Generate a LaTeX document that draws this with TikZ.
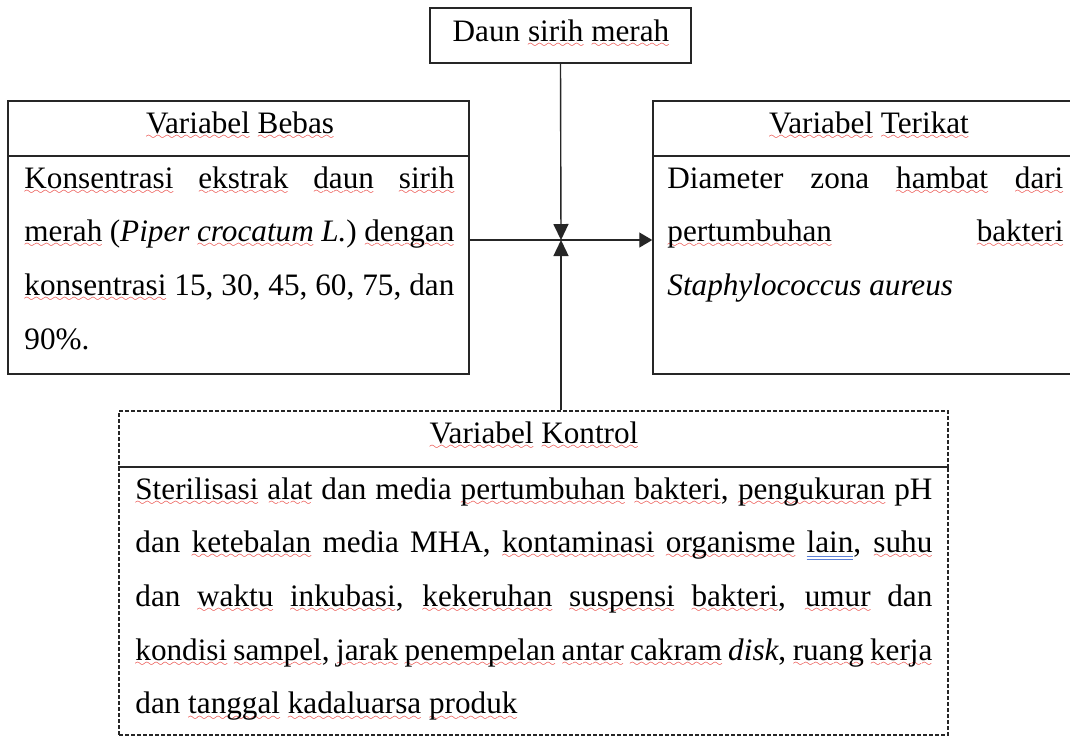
\documentclass[tikz,border=0pt]{standalone}
\usepackage{fontspec}
\setmainfont{Liberation Serif}
\usetikzlibrary{arrows.meta}
\definecolor{wavered}{HTML}{E8302A}
\definecolor{gramblue}{HTML}{5B7FD6}
\font\wavefont=lasy6 at 5.5pt
\newcommand\rw[1]{\setbox0\hbox{#1}\rlap{\lower3.1pt\hbox to\wd0{\color{wavered}\xleaders\hbox{\wavefont\char58}\hfil}}\box0\relax}
\newcommand\bu[1]{\setbox0\hbox{#1}\rlap{\color{gramblue}\rule[-2.3pt]{\wd0}{0.45pt}}\rlap{\color{gramblue}\rule[-3.6pt]{\wd0}{0.45pt}}\box0\relax}
\newcommand\jl[2]{\makebox[#1][s]{#2}}
\begin{document}
\begin{tikzpicture}[x=0.5pt,y=-0.5pt,
  box/.style={draw=black!85,line width=0.75pt,inner sep=0pt},
  dbox/.style={draw=black!85,line width=0.55pt,dash pattern=on 2pt off 1pt,inner sep=0pt},
  txt/.style={inner sep=0pt,font=\fontsize{15.6pt}{18pt}\selectfont},
  conn/.style={draw=black!85,line width=0.7pt},
  tip/.style={-{Triangle[length=8pt,width=7.5pt]}},
  rtip/.style={-{Triangle[length=6.5pt,width=7.5pt]}}]
\clip (0,0) rectangle (1070,736);
\fill[white] (0,0) rectangle (1070,736);
% top box
\node[box,minimum width=130.5pt,minimum height=27.5pt] (daun) at (560.5,35.5) {};
\node[txt,anchor=base] (daunT) at (561,41) {Daun \rw{sirih} \rw{merah}};
% left box
\node[box,minimum width=230.5pt,minimum height=27.5pt] (bebasH) at (238.5,128.5) {};
\node[box,minimum width=230.5pt,minimum height=109pt] (bebasB) at (238.5,265) {};
\node[txt,anchor=base] (bebasT) at (240,133) {\rw{Variabel} \rw{Bebas}};
\node[txt,anchor=base west] (b1) at (24,188) {\jl{215pt}{\rw{Konsentrasi} \rw{ekstrak} \rw{daun} \rw{sirih}}};
\node[txt,anchor=base west] (b2) at (24,241.7) {\jl{215pt}{\rw{merah} (\textit{Piper} \rw{\textit{crocatum}} \textit{L.}) \rw{dengan}}};
\node[txt,anchor=base west] (b3) at (24,295.4) {\jl{215pt}{\rw{konsentrasi} 15, 30, 45, 60, 75, dan}};
\node[txt,anchor=base west] (b4) at (24,349) {90\%.};
% right box
\node[box,minimum width=212.5pt,minimum height=27.5pt] (terikatH) at (865.5,128.5) {};
\node[box,minimum width=212.5pt,minimum height=109pt] (terikatB) at (865.5,265) {};
\node[txt,anchor=base] (terikatT) at (869,133) {\rw{Variabel} \rw{Terikat}};
\node[txt,anchor=base west] (t1) at (667,188) {\jl{198pt}{Diameter zona \rw{hambat} \rw{dari}}};
\node[txt,anchor=base west] (t2) at (667,241.7) {\jl{198pt}{\rw{pertumbuhan} \rw{bakteri}}};
\node[txt,anchor=base west] (t3) at (667,295.4) {\textit{Staphylococcus aureus}};
% bottom box
\node[dbox,minimum width=414.5pt,minimum height=28pt] (kontrolH) at (533.5,439) {};
\node[dbox,minimum width=414.5pt,minimum height=134pt] (kontrolB) at (533.5,601) {};
\node[txt,anchor=base] (kontrolT) at (534,443) {\rw{Variabel} \rw{Kontrol}};
\node[txt,anchor=base west] (k1) at (135,499) {\jl{398.5pt}{\rw{Sterilisasi} \rw{alat} dan media \rw{pertumbuhan} \rw{bakteri}, \rw{pengukuran} pH}};
\node[txt,anchor=base west] (k2) at (135,552.7) {\jl{398.5pt}{dan \rw{ketebalan} media MHA, \rw{kontaminasi} \rw{organisme} \bu{lain}, \rw{suhu}}};
\node[txt,anchor=base west] (k3) at (135,606.4) {\jl{398.5pt}{dan \rw{waktu} \rw{inkubasi}, \rw{kekeruhan} \rw{suspensi} \rw{bakteri}, \rw{umur} dan}};
\node[txt,anchor=base west] (k4) at (135,660.1) {\jl{398.5pt}{\rw{kondisi} \rw{sampel}, \rw{jarak} \rw{penempelan} \rw{antar} \rw{cakram} \textit{disk}, \rw{ruang} \rw{kerja}}};
\node[txt,anchor=base west] (k5) at (135,713.8) {dan \rw{tanggal} \rw{kadaluarsa} \rw{produk}};
% connectors
\coordinate (X) at (561,240);
\draw[conn,tip] (daun.south) -- (X);
\draw[conn,tip] (kontrolH.north -| X) -- (X);
\draw[conn,rtip] (bebasB.east |- X) -- (terikatB.west |- X);
\end{tikzpicture}
\end{document}
